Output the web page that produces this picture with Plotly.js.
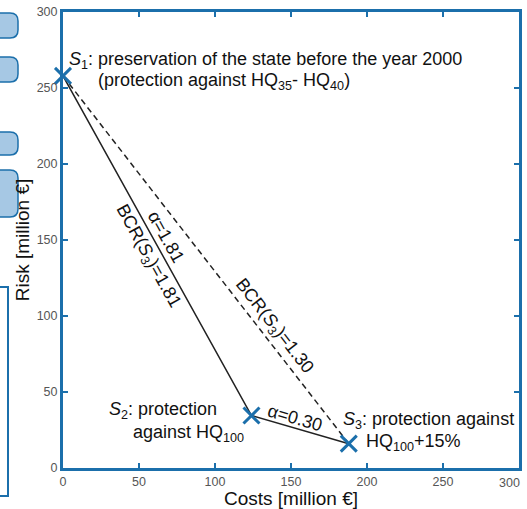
<!DOCTYPE html>
<html>
<head>
<meta charset="utf-8">
<script src="https://cdn.plot.ly/plotly-3.0.1.min.js"></script>
<style>html,body{margin:0;padding:0;background:#fff;}#chart{width:527px;height:509px;}</style>
</head>
<body>
<div id="chart"></div>
<script>
// Data
const scenarios = ['S1', 'S2', 'S3'];
const costs = [0, 124, 188];        // million €
const risks = [258, 34.5, 16];      // million €
const xTicks = [0, 50, 100, 150, 200, 250, 300];
const yTicks = [0, 50, 100, 150, 200, 250, 300];

const BLUE = '#1b6fab';
const FONT = 'Liberation Sans, Arial, sans-serif';
const TICKFONT = { family: FONT, size: 12.5, color: '#555' };

// plot area in pixels: x 63..519, y 12..468
const L = 63, T = 12, W = 456, H = 456;
const px = v => (v - L) / W;
const py = v => (T + H - v) / H;
const dx = p => (p - L) / W * 300;
const dy = p => (T + H - p) / H * 300;

const traces = [
  { x: [costs[0], costs[2]], y: [risks[0], risks[2]], mode: 'lines',
    line: { color: '#222', width: 1.5, dash: '6px,4px' }, hoverinfo: 'skip', showlegend: false },
  { x: costs, y: risks, mode: 'lines',
    line: { color: '#222', width: 1.5 }, hoverinfo: 'skip', showlegend: false },
  { x: costs, y: risks, mode: 'markers', text: scenarios,
    marker: { symbol: 'x-thin', size: 16, line: { color: BLUE, width: 3 }, color: BLUE },
    cliponaxis: false, showlegend: false }
];

const ann = (text, x, y, opts) => Object.assign({
  text, x: dx(x), y: dy(y), xref: 'x', yref: 'y', showarrow: false,
  font: { family: FONT, size: 18, color: '#111' }
}, opts || {});

const lastX = xTicks[xTicks.length - 1];
const annotations = [
  ann('<i>S</i><sub>1</sub>: preservation of the state before the year 2000', 67, 60, { xanchor: 'left', yanchor: 'middle' }),
  ann('(protection against HQ<sub>35</sub>- HQ<sub>40</sub>)', 96, 81, { xanchor: 'left', yanchor: 'middle' }),
  ann('α=1.81', 166, 237, { textangle: 61 }),
  ann('BCR(<i>S</i><sub>3</sub>)=1.81', 148, 256, { textangle: 61 }),
  ann('BCR(<i>S</i><sub>3</sub>)=1.30', 274, 326, { textangle: 52 }),
  ann('α=0.30', 295, 418, { textangle: 16 }),
  ann('<i>S</i><sub>2</sub>: protection', 219, 410, { xanchor: 'right', yanchor: 'middle' }),
  ann('against HQ<sub>100</sub>', 246, 433, { xanchor: 'right', yanchor: 'middle' }),
  ann('<i>S</i><sub>3</sub>: protection against', 341, 420, { xanchor: 'left', yanchor: 'middle' }),
  ann('HQ<sub>100</sub>+15%', 364, 442, { xanchor: 'left', yanchor: 'middle' }),
  // last x tick label, kept inside the picture (as in the reference)
  { text: String(lastX), x: lastX, xref: 'x', y: 0, yref: 'paper', xanchor: 'right', yanchor: 'top',
    xshift: 3, yshift: -6, showarrow: false, font: TICKFONT }
];

// decorative cut-off elements at the left edge of the picture
function tab(x0, y0, x1, y1, r) {
  const a = px(x0), b = px(x1), t = py(y0), u = py(y1), rr = r / W;
  return `M ${a},${t} L ${b - rr},${t} Q ${b},${t} ${b},${t - rr} L ${b},${u + rr} Q ${b},${u} ${b - rr},${u} L ${a},${u} Z`;
}
const shapes = [
  [13, 38], [57, 82], [132, 155], [170, 217]
].map(([y0, y1]) => ({
  type: 'path', xref: 'paper', yref: 'paper', path: tab(-12, y0, 18, y1, 8),
  fillcolor: '#a6c8e4', line: { color: BLUE, width: 1.5 }, layer: 'above'
}));
shapes.push({ type: 'rect', xref: 'paper', yref: 'paper', x0: px(-6), x1: px(8), y0: py(287), y1: py(496),
  fillcolor: 'rgba(0,0,0,0)', line: { color: BLUE, width: 2 } });

const axisCommon = {
  range: [0, 300], showgrid: false, zeroline: false,
  showline: true, linecolor: BLUE, linewidth: 3, mirror: 'ticks',
  ticks: 'inside', ticklen: 5, tickwidth: 2, tickcolor: BLUE,
  tickfont: TICKFONT, fixedrange: true
};

const layout = {
  width: 527, height: 509,
  margin: { l: L, r: 527 - L - W, t: T, b: 509 - T - H },
  paper_bgcolor: '#fff', plot_bgcolor: '#fff',
  font: { family: FONT },
  xaxis: Object.assign({}, axisCommon, { tickvals: xTicks,
    ticktext: xTicks.map(v => v === lastX ? '' : String(v)),
    title: { text: 'Costs [million €]', font: { family: FONT, size: 19, color: '#111' }, standoff: 2 } }),
  yaxis: Object.assign({}, axisCommon, { tickvals: yTicks, ticktext: yTicks.map(String),
    title: { text: 'Risk [million €]', font: { family: FONT, size: 19, color: '#111' }, standoff: 2 } }),
  annotations, shapes, showlegend: false
};

Plotly.newPlot('chart', traces, layout, { displayModeBar: false, staticPlot: true });
</script>
</body>
</html>
